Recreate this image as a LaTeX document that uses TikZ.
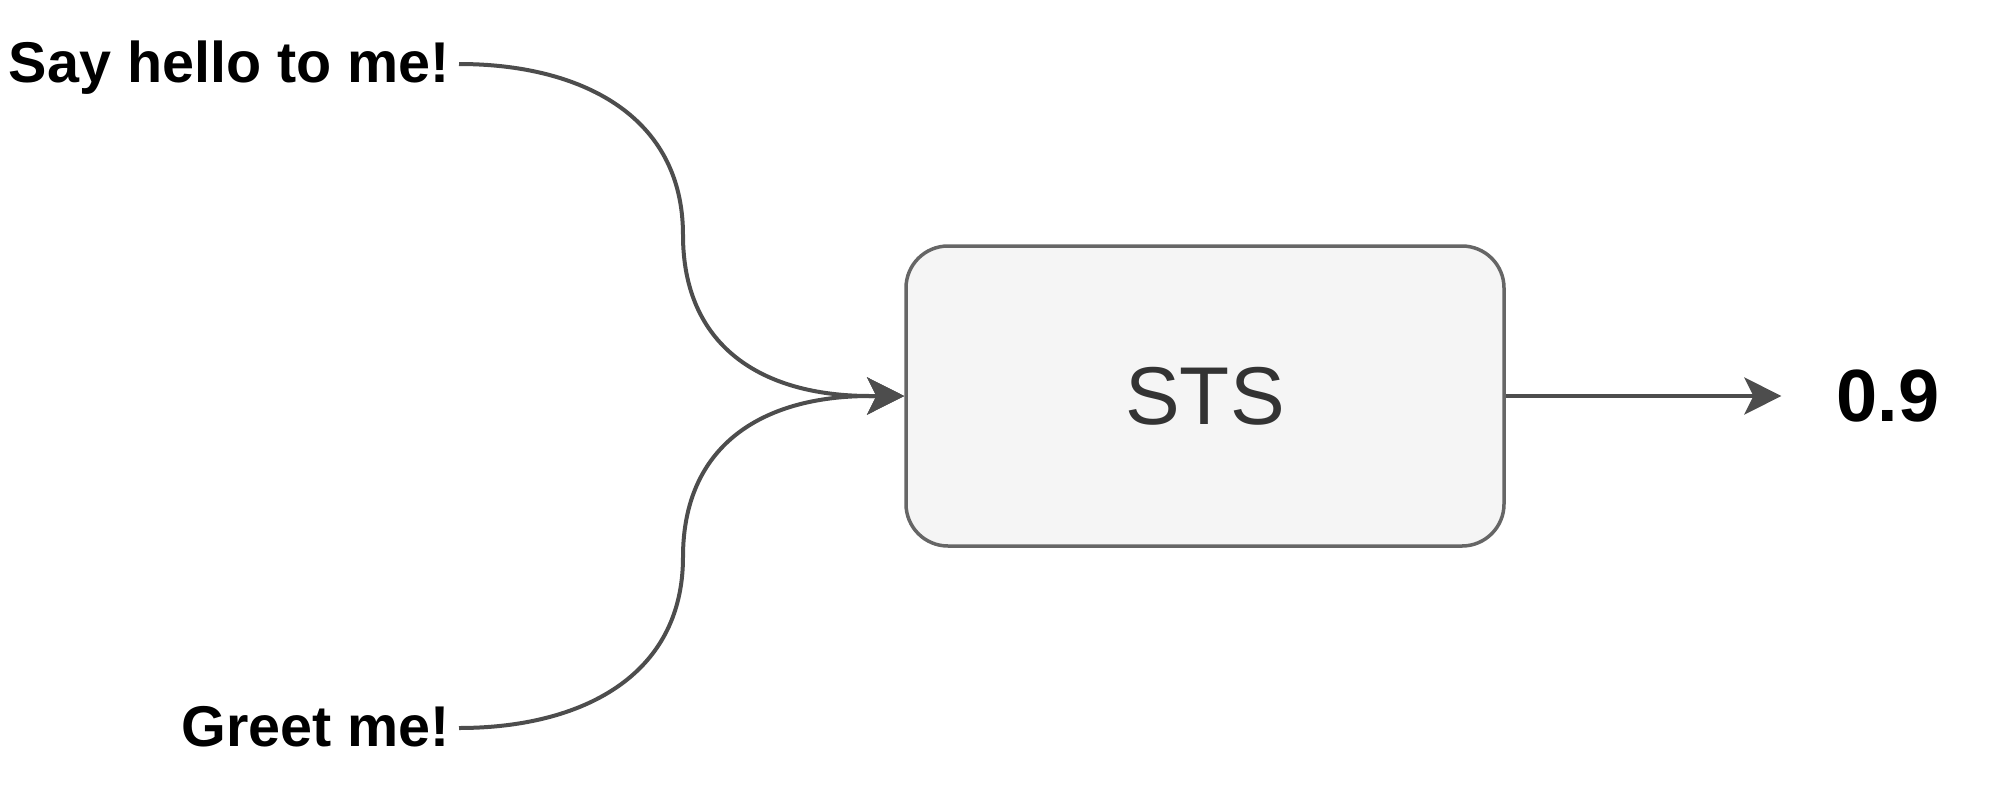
\documentclass[tikz,border=0pt]{standalone}
\usepackage{fontspec}
\setmainfont{Liberation Sans}
\usetikzlibrary{arrows.meta}
\definecolor{edgecol}{HTML}{4D4D4D}
\definecolor{boxline}{HTML}{666666}
\definecolor{boxfill}{HTML}{F5F5F5}
\definecolor{boxtext}{HTML}{333333}
\begin{document}
\begin{tikzpicture}[x=1pt,y=-1pt,
  inlabel/.style={inner ysep=0pt, inner xsep=9pt, anchor=east, text height=41pt, text depth=5pt,
    font=\fontsize{57.5}{69}\selectfont\bfseries},
  procbox/.style={draw=boxline, fill=boxfill, line width=3.5pt, rounded corners=42pt,
    minimum width=598pt, minimum height=300pt, inner sep=0pt, text=boxtext,
    font=\fontsize{82}{98}\selectfont},
  outlabel/.style={inner ysep=0pt, inner xsep=55pt, font=\fontsize{74}{89}\selectfont\bfseries},
  conn/.style={draw=edgecol, line width=4pt, -{Stealth[length=37pt,width=37pt,inset=9pt]}}
]
\useasboundingbox (0,0) rectangle (2000,788);
\node[inlabel] (say) at (459,64) {Say hello to me!};
\node[inlabel] (greet) at (459,728) {Greet me!};
\node[procbox] (sts) at (1205,396) {STS};
\node[outlabel] (out) at (1888,396) {0.9};
\draw[conn] (say.east) .. controls (580,64) and (683,115) .. (683,235)
  .. controls (683,345) and (760,396) .. (870,396) -- (sts.west);
\draw[conn] (greet.east) .. controls (580,728) and (683,677) .. (683,557)
  .. controls (683,447) and (760,396) .. (870,396) -- (sts.west);
\draw[conn] (sts.east) -- (out.west);
\end{tikzpicture}
\end{document}
